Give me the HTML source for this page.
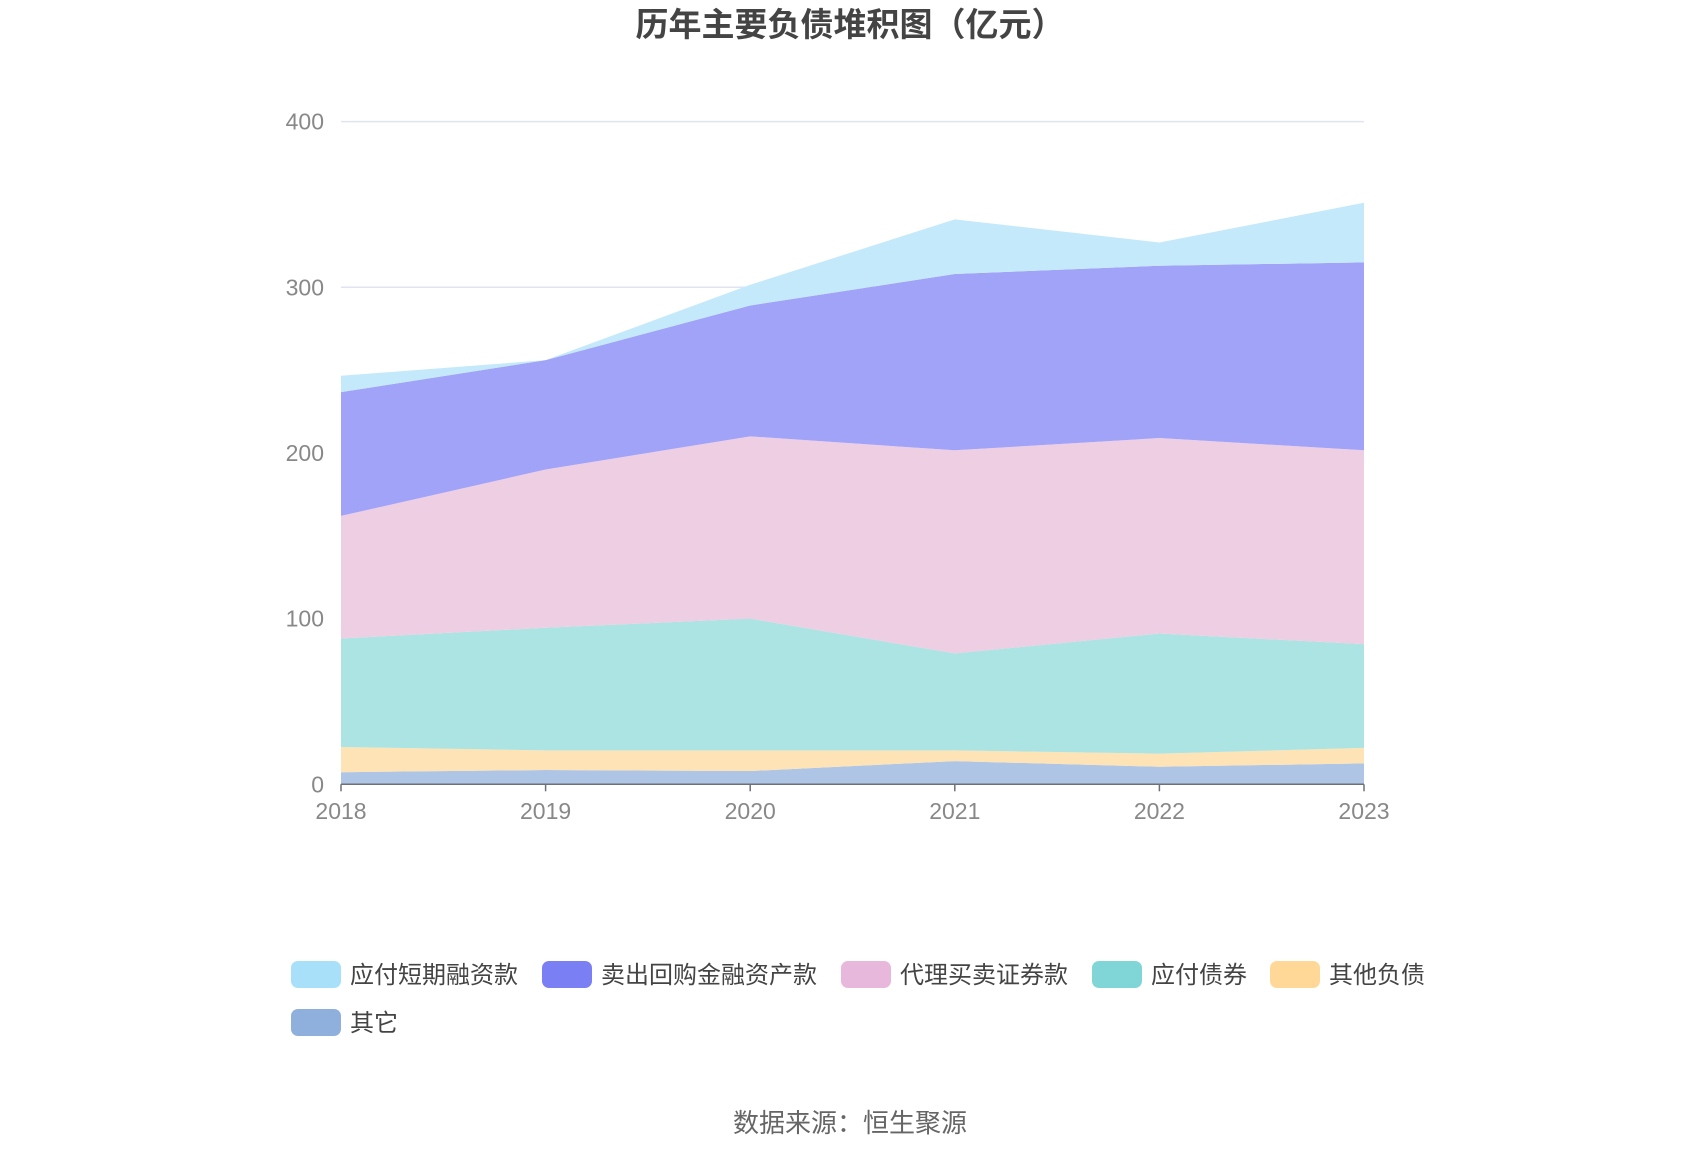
<!DOCTYPE html>
<html><head><meta charset="utf-8"><style>
body{margin:0;background:#fff;}
svg{display:block;font-family:"Liberation Sans","Noto Sans CJK SC",sans-serif;}
</style></head><body>
<svg id="chart" width="1700" height="1150">
<text x="850" y="36" text-anchor="middle" font-size="33" font-weight="bold" fill="#444">历年主要负债堆积图（亿元）</text>
<g id="grid"></g><g id="areas"></g><g id="axes"></g><g id="legend"></g>
<text x="850" y="1132" text-anchor="middle" font-size="26" fill="#666">数据来源：恒生聚源</text>
</svg>
<script>
const categories=["2018","2019","2020","2021","2022","2023"];
const yTicks=[0,100,200,300,400];
const seriesNames=["其它","其他负债","应付债券","代理买卖证券款","卖出回购金融资产款","应付短期融资款"];
const sOther=[7.3,8.6,8,14,10.6,12.6];
const sOtherLiab=[15.2,11.9,12.5,6.5,7.9,9.4];
const sBonds=[65.5,74,79.5,58.5,72.5,62.6];
const sAgency=[74,95.5,110,122.6,118,117];
const sRepo=[74.7,66,79,106.4,104,113.4];
const sShort=[9.9,0,12.5,33,14,36];
const seriesData=[sOther,sOtherLiab,sBonds,sAgency,sRepo,sShort];
const fills=["#afc5e6","#fde3b5","#ace3e3","#eecee3","#a0a3f8","#c4e9fb"];
const swatch=["#8fb0dd","#ffd898","#80d6d6","#e8b8dc","#7b7ff4","#a8e0fa"];
const NS="http://www.w3.org/2000/svg";
const x0=341,x1=1364,yB=784.3,yT=121.6;
const X=i=>x0+(x1-x0)*i/(categories.length-1);
const Y=v=>yB-(yB-yT)*v/400;
function mk(t,a,p){const e=document.createElementNS(NS,t);for(const k in a)e.setAttribute(k,a[k]);p.appendChild(e);return e;}
const grid=document.getElementById('grid'),axes=document.getElementById('axes'),areas=document.getElementById('areas'),legend=document.getElementById('legend');
yTicks.forEach(t=>{
 if(t>0){const l=mk('line',{x1:x0,x2:x1,y1:Y(t),y2:Y(t),stroke:'#e0e3f0','stroke-width':1.5},grid);
 
 }
 const tx=mk('text',{x:324,y:Y(t)+8,'text-anchor':'end','font-size':23,fill:'#888'},axes);tx.textContent=t;
 
 
});
let base=categories.map(()=>0);
seriesData.forEach((s,k)=>{
 const top=base.map((b,i)=>b+s[i]);
 let d='M'+top.map((v,i)=>X(i)+','+Y(v)).join(' L');
 for(let i=categories.length-1;i>=0;i--)d+=' L'+X(i)+','+Y(base[i]);
 const p=mk('path',{d:d+'Z',fill:fills[k]},areas);
 
 
 base=top;
});
const ax=mk('line',{x1:x0,x2:x1,y1:yB,y2:yB,stroke:'#6e7079','stroke-width':1.5},axes);


categories.forEach((c,i)=>{
 const tk=mk('line',{x1:X(i),x2:X(i),y1:yB,y2:yB+7,stroke:'#6e7079','stroke-width':1.5},axes);
 
 
 const t=mk('text',{x:X(i),y:819,'text-anchor':'middle','font-size':23,fill:'#888'},axes);t.textContent=c;
 
 
});
const legOrder=[5,4,3,2,1,0];
const legPos=[[291,974],[542,974],[841,974],[1092,974],[1270,974],[291,1022]];
legOrder.forEach((k,j)=>{
 const [lx,ly]=legPos[j];
 const g=mk('g',{},legend);
 
 
 mk('rect',{x:lx,y:ly-13,width:50,height:27,rx:7,fill:swatch[k]},g);
 const t=mk('text',{x:lx+59,y:ly+9,'font-size':24,fill:'#444'},g);t.textContent=seriesNames[k];
});
</script>
</body></html>
